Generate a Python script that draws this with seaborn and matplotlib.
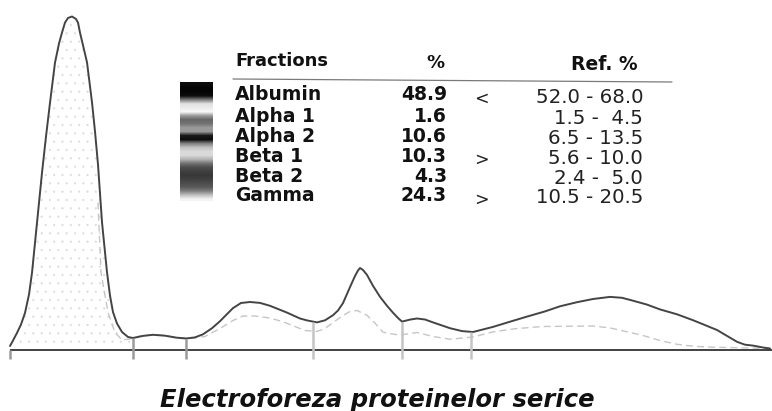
import numpy as np
import pandas as pd
import matplotlib
matplotlib.use("Agg")
import matplotlib.pyplot as plt
import seaborn as sns

# ---------------- data ----------------
# densitometry scan: position along the strip and signal height above baseline
scan_pos = [10, 13, 17, 21, 25, 29, 32, 37, 42, 46, 50, 55, 59, 62, 65, 68, 72, 76, 78,
            80, 84, 87, 92, 95, 98, 102, 107, 110, 113, 117, 122, 128, 133, 143, 153,
            165, 176, 186, 195, 203, 212, 220, 227, 233, 241, 250, 260, 270, 287, 300,
            307, 317, 325, 333, 338, 343, 350, 355, 358, 360, 363, 367, 373, 380, 387,
            393, 398, 402, 410, 417, 425, 433, 450, 462, 473, 493, 510, 527, 545, 560,
            577, 593, 610, 622, 633, 647, 660, 677, 693, 705, 717, 727, 737, 745, 753,
            763, 770]
scan_val = [3.5, 9.0, 16.6, 25.0, 36.6, 55.0, 76.7, 126.7, 176.7, 213.0, 246.7, 286.8,
            306.0, 316.9, 326.9, 331.5, 333.0, 330.5, 326.9, 316.9, 300.0, 287.2, 247.2,
            218.0, 185.0, 127.3, 77.3, 54.0, 37.4, 26.0, 17.5, 12.5, 11.5, 13.6, 14.7,
            13.8, 11.9, 11.0, 12.1, 15.2, 21.3, 28.3, 35.4, 41.4, 46.5, 47.5, 46.6, 43.7,
            36.9, 31.0, 29.1, 27.1, 29.2, 34.3, 39.0, 46.4, 62.4, 73.5, 79.0, 81.5, 79.5,
            74.6, 63.7, 52.7, 43.7, 36.8, 31.5, 27.9, 29.9, 31.0, 30.0, 27.1, 21.3, 18.4,
            17.5, 22.6, 27.8, 32.9, 38.1, 43.2, 47.3, 50.5, 52.6, 51.7, 48.8, 44.9, 40.1,
            35.2, 29.3, 24.4, 19.5, 13.6, 7.7, 4.8, 3.9, 2.0, 1.0]

# reference (fitted) trace, drawn dashed
ref_pos = [98, 101, 108, 115, 122, 130, 140, 153, 165, 178, 190, 205, 220, 233, 243,
           255, 270, 283, 293, 305, 317, 325, 333, 343, 350, 357, 367, 375, 383, 392,
           400, 417, 433, 450, 462, 473, 493, 515, 543, 570, 593, 610, 627, 643, 660,
           677, 693, 710, 740, 770]
ref_val = [147, 77, 37, 17, 9.5, 10.5, 13.5, 15, 14, 12, 11, 13, 21, 29, 33.5, 33.5,
           31.5, 27.7, 23.8, 19, 18, 21, 27, 34, 38, 39, 34.2, 26.3, 17.3, 15.5, 14.5,
           17, 13, 10.3, 11.4, 12.5, 17.6, 20.8, 23, 23.3, 23.5, 21.6, 17.7, 14, 9,
           5.2, 3.3, 2.4, 1.7, 1.0]

# fraction boundaries along the scan
boundaries = [10, 133, 186, 313, 402, 471]

fractions = ["Albumin", "Alpha 1", "Alpha 2", "Beta 1", "Beta 2", "Gamma"]
percent = ["48.9", "1.6", "10.6", "10.3", "4.3", "24.3"]
flags = ["<", "", "", ">", "", ">"]
ref_ranges = ["52.0 - 68.0", "1.5 -  4.5", "6.5 - 13.5", "5.6 - 10.0",
              "2.4 -  5.0", "10.5 - 20.5"]
headers = ["Fractions", "%", "Ref. %"]
title = "Electroforeza proteinelor serice"

# gel strip density profile (0 = black, 1 = white), top to bottom
gel_profile = [0.05, 0.02, 0.02, 0.05, 0.5, 0.88, 0.92, 0.97, 0.6, 0.4, 0.45, 0.6,
               0.6, 0.1, 0.05, 0.5, 0.75, 0.85, 0.85, 0.7, 0.45, 0.3, 0.25, 0.22,
               0.25, 0.3, 0.35, 0.5, 0.75, 0.95]

# ---------------- figure ----------------
sns.set_theme(style="white")
plt.rcParams["font.family"] = ["DejaVu Sans"]
plt.rcParams["hatch.linewidth"] = 0.35

W, H = 772, 411
fig = plt.figure(figsize=(W / 100, H / 100), dpi=100)
fig.patch.set_facecolor("white")

ax = fig.add_axes([0, 0, 1, 1])
ax.set_xlim(0, W)
ax.set_ylim(-61.5, 349.5)
ax.axis("off")

scan = pd.DataFrame({"pos": scan_pos, "val": scan_val})
ref = pd.DataFrame({"pos": ref_pos, "val": ref_val})

# stippled albumin area
alb = scan[scan["pos"] <= 133]
ax.fill_between(alb["pos"], 0, alb["val"], facecolor="none", hatch="..",
                edgecolor="#dcdcdc", linewidth=0)

sns.lineplot(data=ref, x="pos", y="val", sort=False, estimator=None, ax=ax,
             color="#c6c6c6", linewidth=1.0, linestyle=(0, (5, 3)))
sns.lineplot(data=scan, x="pos", y="val", sort=False, estimator=None, ax=ax,
             color="#444444", linewidth=1.4)

# baseline
ax.hlines(0, 10, W, color="#333333", linewidth=1.3)

# boundary ticks
tops = np.interp(boundaries, scan_pos, scan_val)
for i, (b, t) in enumerate(zip(boundaries, tops)):
    col = "#9a9a9a" if i < 3 else "#c4c4c4"
    top = 0 if i == 0 else t
    ax.vlines(b, -9.5, top, color=col, linewidth=1.8)

# ---------------- overlay (table & gel strip) ----------------
ov = fig.add_axes([0, 0, 1, 1], facecolor="none")
ov.set_xlim(0, W)
ov.set_ylim(H, 0)
ov.axis("off")

gel = np.array(gel_profile).reshape(-1, 1)
ov.imshow(gel, cmap="gray", vmin=0, vmax=1, aspect="auto",
          extent=(180, 213, 201, 83), interpolation="bilinear")

# headers
ov.text(235, 61, headers[0], fontsize=13, fontweight="bold", ha="left",
        va="center", color="#111111")
ov.text(435, 63, headers[1], fontsize=13, fontweight="bold", ha="center",
        va="center", color="#111111")
ov.text(604, 64, headers[2], fontsize=13.5, fontweight="bold", ha="center",
        va="center", color="#111111")
ov.plot([233, 672], [79, 82], color="#7a7a7a", linewidth=0.9)

row_y = [95, 116.5, 136.5, 156, 176, 195.5]
for name, pct, flg, rr, y in zip(fractions, percent, flags, ref_ranges, row_y):
    ov.text(235, y, name, fontsize=13.5, fontweight="bold", ha="left",
            va="center", color="#111111")
    ov.text(447, y, pct, fontsize=13.5, fontweight="bold", ha="right",
            va="center", color="#111111")
    if flg:
        ov.text(481, y + 4, flg, fontsize=12.5, ha="center", va="center",
                color="#222222")
    ov.text(643, y + 2, rr, fontsize=14.2, ha="right", va="center",
            color="#222222")

fig.text(377.5 / W, (H - 407) / H, title, fontsize=17.5, fontweight="bold",
         fontstyle="italic", ha="center", va="baseline", color="#111111")

fig.savefig("out.png", dpi=100, facecolor="white")
